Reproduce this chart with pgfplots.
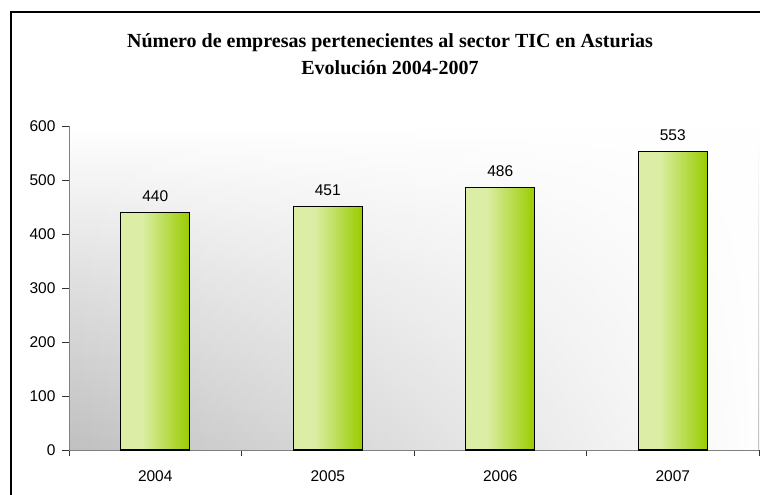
\documentclass[border=0pt]{standalone}
\usepackage{fontspec}
\setmainfont{Liberation Sans}
\newfontfamily\titlefont{Liberation Serif}
\usepackage{pgfplots}
\pgfplotsset{compat=1.18}
\usetikzlibrary{fadings}
\definecolor{barlight}{RGB}{220,238,166}
\definecolor{bardark}{RGB}{153,204,0}
\definecolor{bggray}{RGB}{192,192,192}
\definecolor{bgmid}{RGB}{222,222,222}
\definecolor{axgray}{RGB}{128,128,128}
\pgfdeclarehorizontalshading{barshade}{100bp}{color(0bp)=(barlight); color(40bp)=(barlight); color(75bp)=(bardark); color(100bp)=(bardark)}
\tikzfading[name=faderight, left color=transparent!100, middle color=transparent!62, right color=transparent!0]
\begin{document}
\begin{tikzpicture}[x=1bp,y=1bp]
\path[use as bounding box] (0,0) rectangle (760,495);
\draw[line width=1.3bp, black] (11,-20) -- (11,483) -- (780,483);
\node[font=\titlefont\bfseries\fontsize{20bp}{24bp}\selectfont, anchor=base] at (390,447) {Número de empresas pertenecientes al sector TIC en Asturias};
\node[font=\titlefont\bfseries\fontsize{20bp}{24bp}\selectfont, anchor=base] at (390,420) {Evolución 2004-2007};
\begin{axis}[
  at={(69bp,45bp)}, anchor=south west,
  scale only axis, width=690bp, height=324bp,
  xmin=-0.5, xmax=3.5, ymin=0, ymax=600,
  axis lines*=left,
  axis line style={draw=axgray, line width=0.9bp},
  axis background/.style={top color=white, bottom color=bggray, middle color=bgmid,
     postaction={fill=white, path fading=faderight}},
  ytick={0,100,...,600},
  xtick={0,1,2,3},
  xticklabels={2004,2005,2006,2007},
  minor xtick={-0.5,0.5,1.5,2.5,3.5},
  tick align=outside,
  major tick length=7bp,
  minor tick length=6bp,
  tick style={draw=black!80, line width=0.8bp},
  major x tick style={draw=none},
  every tick label/.style={font=\fontsize{15.5bp}{18bp}\selectfont},
  yticklabel style={xshift=-3bp},
  xticklabel style={yshift=-10bp},
  /pgf/number format/assume math mode=true,
  ybar, bar width=0.4, bar shift=0pt,
  nodes near coords,
  nodes near coords style={font=\fontsize{15.5bp}{18bp}\selectfont, text=black, yshift=7bp},
  clip=false,
]
\addplot[draw=black, line width=1.1bp, shade, shading=barshade] coordinates {(0,440)};
\addplot[draw=black, line width=1.1bp, shade, shading=barshade] coordinates {(1,451)};
\addplot[draw=black, line width=1.1bp, shade, shading=barshade] coordinates {(2,486)};
\addplot[draw=black, line width=1.1bp, shade, shading=barshade] coordinates {(3,553)};
\end{axis}
\end{tikzpicture}
\end{document}
